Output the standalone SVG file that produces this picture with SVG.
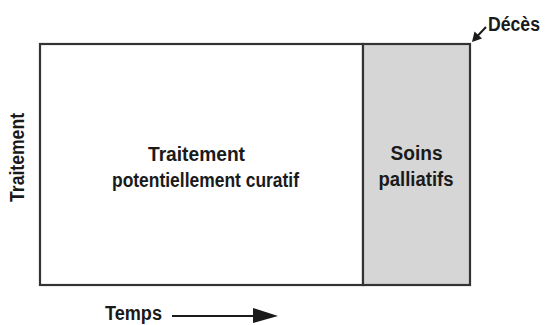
<svg xmlns="http://www.w3.org/2000/svg" width="546" height="325" viewBox="0 0 546 325">
<style>
.t{font-family:"Liberation Sans",Arial,Helvetica,sans-serif;font-weight:bold;font-size:20px;fill:#1a1a1a}
.box{stroke:#333;stroke-width:2.2}
.ln{stroke:#1a1a1a;stroke-width:2;fill:none}
</style>
<rect width="546" height="325" fill="#fff"/>
<g id="curatif">
<rect class="box" x="40" y="44" width="323" height="241" fill="#fff"/>
<text class="t" x="196.5" y="161" text-anchor="middle" textLength="97" lengthAdjust="spacingAndGlyphs">Traitement</text>
<text class="t" x="205.5" y="187" text-anchor="middle" textLength="187" lengthAdjust="spacingAndGlyphs">potentiellement curatif</text>
</g>
<g id="palliatifs">
<rect class="box" x="363" y="44" width="107" height="241" fill="#d6d6d6"/>
<text class="t" x="416.5" y="160" text-anchor="middle" textLength="52" lengthAdjust="spacingAndGlyphs">Soins</text>
<text class="t" x="416" y="186" text-anchor="middle" textLength="75" lengthAdjust="spacingAndGlyphs">palliatifs</text>
</g>
<g id="axe-traitement">
<text class="t" transform="translate(24,157.5) rotate(-90)" text-anchor="middle" textLength="89" lengthAdjust="spacingAndGlyphs">Traitement</text>
</g>
<g id="temps">
<text class="t" x="105" y="320" textLength="57" lengthAdjust="spacingAndGlyphs">Temps</text>
</g>
<g id="deces">
<text class="t" x="488" y="31" textLength="52" lengthAdjust="spacingAndGlyphs">Décès</text>
</g>
<g id="connectors">
<line class="ln" x1="486" y1="27" x2="477" y2="36.5"/>
<polygon points="472,42 474.5,31.5 482,38.5" fill="#1a1a1a"/>
<line class="ln" x1="172" y1="316" x2="256" y2="316"/>
<polygon points="253,308 278,316 253,323" fill="#1a1a1a"/>
</g>
</svg>
